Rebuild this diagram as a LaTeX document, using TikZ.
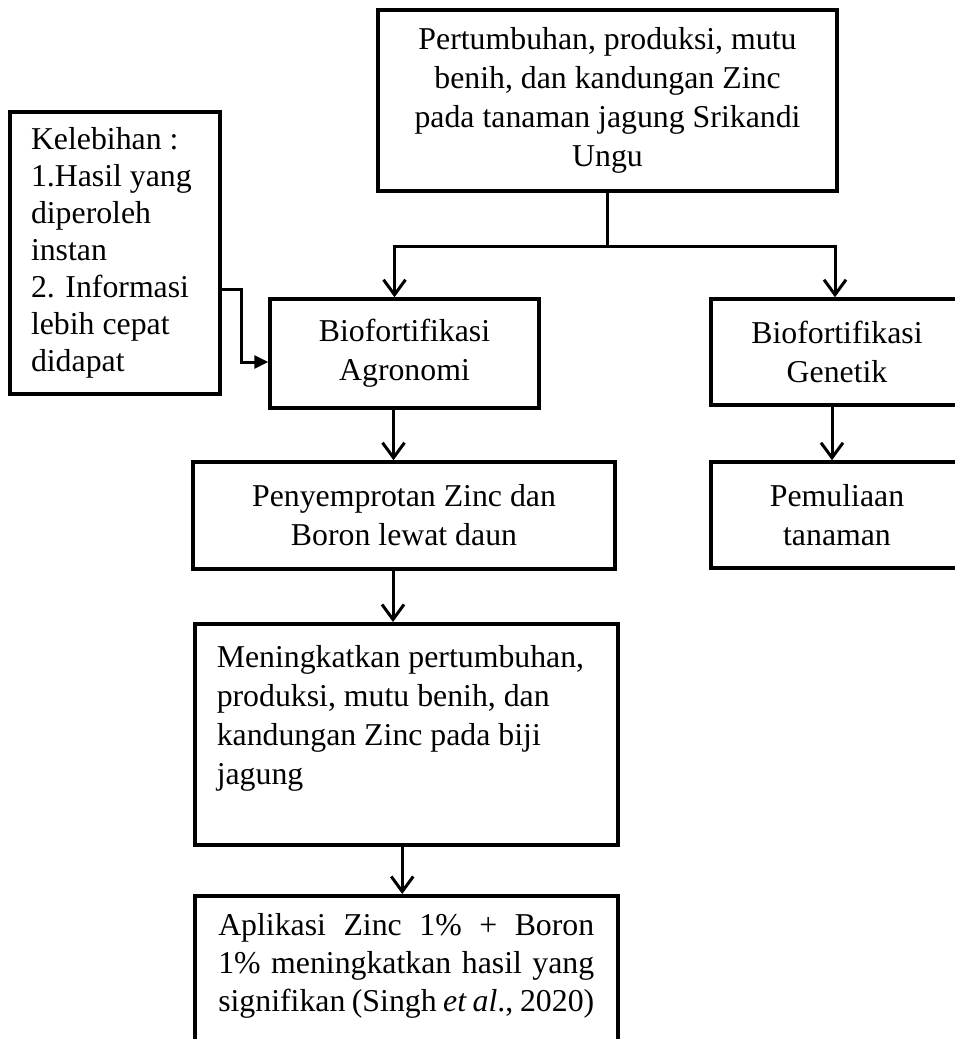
\documentclass[tikz,border=0pt]{standalone}
\usepackage{fontspec}
\setmainfont{Liberation Serif}
\usetikzlibrary{arrows.meta, positioning}

\begin{document}
\begin{tikzpicture}[x=1pt, y=-1pt,
    box/.style={rectangle, draw, line width=3.5pt, inner sep=0pt, align=center,
        font=\fontsize{31.8}{39}\selectfont},
    arr/.style={line width=3pt, -{Straight Barb[length=15pt, width=22pt]}},
    tri/.style={line width=3pt, -{Triangle[length=14pt, width=13pt]}}
]

    \useasboundingbox (0,0) rectangle (955,1039);
    \clip (0,0) rectangle (955,1039);

    % Nodes ------------------------------------------------------

    \node[box, minimum width=459pt, minimum height=181pt] (goal) at (607.5,100.5)
        {Pertumbuhan, produksi, mutu\\ benih, dan kandungan Zinc\\
         pada tanaman jagung Srikandi\\ Ungu};
    \node[box, align=flush left, text width=168pt, inner xsep=21pt,
        font=\fontsize{31.8}{37}\selectfont,
        minimum width=210pt, minimum height=282pt] (kel) at (115,253)
        {Kelebihan :\\ 1.Hasil yang\\ diperoleh\\ instan\\ 2. Informasi\\
         lebih cepat\\ didapat};
    \node[box, minimum width=269pt, minimum height=109pt] (agro) at (404.5,353.5)
        {Biofortifikasi\\ Agronomi};
    \node[box, minimum width=252pt, minimum height=106pt] (gen) at (837,352)
        {Biofortifikasi\\ Genetik};
    \node[box, minimum width=422pt, minimum height=107pt] (peny) at (404,515.5)
        {Penyemprotan Zinc dan\\ Boron lewat daun};
    \node[box, minimum width=252pt, minimum height=106pt] (pem) at (837,515)
        {Pemuliaan\\ tanaman};
    \node[box, align=flush left, anchor=north west, text width=379pt, inner xsep=22pt,
        minimum height=221pt] (mening) at (193,622)
        {Meningkatkan pertumbuhan,\\ produksi, mutu benih, dan\\
         kandungan Zinc pada biji\\ jagung\\ ~};
    \node[box, align=flush left, anchor=north west, text width=376pt, inner xsep=23.5pt,
        inner ysep=18pt, font=\fontsize{31.8}{38}\selectfont] (aplik) at (193,894)
        {\makebox[376pt][s]{Aplikasi Zinc 1\% + Boron}\\
         \makebox[376pt][s]{1\% meningkatkan hasil yang}\\
         \makebox[376pt][s]{signifikan (Singh \textit{et al}., 2020)}\\ ~\\ ~};

    % Connectors -------------------------------------------------

    \draw[line width=3pt] (goal.south) -- ++(0,54) coordinate (split);
    \draw[arr] (split) -| ([xshift=-10pt]agro.north);
    \draw[arr] (split) -| ([xshift=-2pt]gen.north);

    \draw[tri] ([yshift=-36pt]kel.east) -- ++(20,0) |- ([yshift=-8.5pt]agro.west);

    \coordinate (a1) at ([xshift=-11pt]agro.south);
    \draw[arr] (a1) -- (a1 |- peny.north);
    \coordinate (a2) at ([xshift=-11pt]peny.south);
    \draw[arr] (a2) -- (a2 |- mening.north);
    \coordinate (a3) at ([xshift=-4pt]mening.south);
    \draw[arr] (a3) -- (a3 |- aplik.north);
    \coordinate (a4) at ([xshift=-5pt]gen.south);
    \draw[arr] (a4) -- (a4 |- pem.north);

\end{tikzpicture}
\end{document}
